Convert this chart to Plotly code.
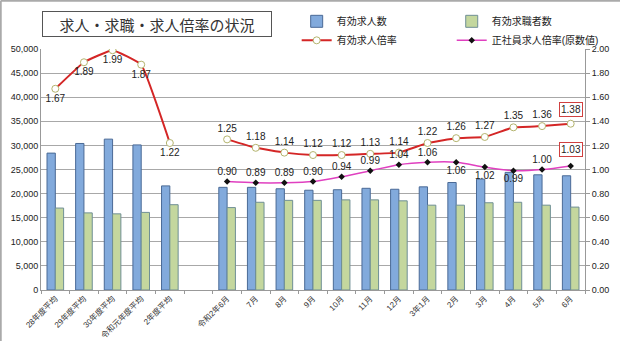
import plotly.graph_objects as go

categories = ["28年度平均", "29年度平均", "30年度平均", "令和元年度平均", "2年度平均", " ",
              "令和2年6月", "7月", "8月", "9月", "10月", "11月", "12月", "3年1月",
              "2月", "3月", "4月", "5月", "6月"]
job_offers = [28400, 30400, 31300, 30100, 21600, None,
              21300, 21300, 21000, 20700, 20800, 21100, 20900, 21400,
              22300, 23000, 24400, 23900, 23700]
job_seekers = [17000, 16000, 15800, 16100, 17700, None,
               17100, 18200, 18600, 18600, 18700, 18700, 18500, 17600,
               17600, 18100, 18200, 17600, 17200]
ratio = [1.67, 1.89, 1.99, 1.87, 1.22, None,
         1.25, 1.18, 1.14, 1.12, 1.12, 1.13, 1.14, 1.22,
         1.26, 1.27, 1.35, 1.36, 1.38]
regular_ratio = [None, None, None, None, None, None,
                 0.90, 0.89, 0.89, 0.90, 0.94, 0.99, 1.04, 1.06,
                 1.06, 1.02, 0.99, 1.00, 1.03]

FONT = "Liberation Sans, Arial, Noto Sans CJK JP"

def lbl(v):
    return "" if v is None else f"{v:.2f}"

ratio_text = [lbl(v) for v in ratio]
ratio_text[-1] = ""
ratio_pos = ["bottom center"] * 6 + ["top center"] * 13
reg_text = [lbl(v) for v in regular_ratio]
reg_text[-1] = ""
reg_pos = ["top center"] * 19
for i in (14, 15, 16):
    reg_pos[i] = "bottom center"

fig = go.Figure()
fig.add_trace(go.Bar(x=categories, y=job_offers, name="有効求人数", legend="legend",
                     marker=dict(color="#82aadc", line=dict(color="#4a6a96", width=1))))
fig.add_trace(go.Bar(x=categories, y=job_seekers, name="有効求職者数", legend="legend2",
                     marker=dict(color="#c4d79e", line=dict(color="#6f8f95", width=1))))
fig.add_trace(go.Scatter(x=categories, y=ratio, name="有効求人倍率", yaxis="y2", legend="legend",
                         mode="lines+markers+text", text=ratio_text, textposition=ratio_pos,
                         textfont=dict(size=10, color="#222"),
                         line=dict(color="#d42626", width=2, shape="spline", smoothing=0.3),
                         marker=dict(size=7, color="white", line=dict(color="#b4b46e", width=1))))
fig.add_trace(go.Scatter(x=categories, y=regular_ratio, name="正社員求人倍率(原数値)", yaxis="y2",
                         legend="legend2",
                         mode="lines+markers+text", text=reg_text, textposition=reg_pos,
                         textfont=dict(size=10, color="#222"),
                         line=dict(color="#e040c0", width=1.5, shape="spline", smoothing=0.8),
                         marker=dict(size=5, color="#111", symbol="diamond")))

annotations = [
    dict(x=categories[-1], y=ratio[-1], yref="y2", xref="x", text=lbl(ratio[-1]),
         showarrow=False, yshift=14, bordercolor="#d04040", borderwidth=1, borderpad=1,
         bgcolor="white", font=dict(size=10, color="#222", family=FONT)),
    dict(x=categories[-1], y=regular_ratio[-1], yref="y2", xref="x", text=lbl(regular_ratio[-1]),
         showarrow=False, yshift=16, bordercolor="#d04040", borderwidth=1, borderpad=1,
         bgcolor="white", font=dict(size=10, color="#222", family=FONT)),
    dict(x=0.213, y=1.104, xref="paper", yref="paper", xanchor="center", yanchor="middle",
         text="求人・求職・求人倍率の状況",
         showarrow=False, width=226, height=22, bordercolor="#555", borderwidth=1,
         font=dict(size=15, color="#333", family="Noto Sans CJK JP")),
]

leg_common = dict(orientation="v", y=1.175, yanchor="top", xanchor="left",
                  itemwidth=30, font=dict(size=10, family=FONT),
                  bgcolor="rgba(0,0,0,0)", tracegroupgap=0)

fig.update_layout(
    width=620, height=341,
    margin=dict(l=41, r=35, t=49, b=51, autoexpand=False),
    paper_bgcolor="white", plot_bgcolor="white",
    font=dict(family=FONT, size=9, color="#222"),
    barmode="group", bargap=0.42, bargroupgap=0,
    showlegend=True,
    legend=dict(x=0.47, **leg_common),
    legend2=dict(x=0.755, **leg_common),
    xaxis=dict(type="category", range=[-0.5, len(categories) - 0.5], autorange=False,
               tickangle=-45, tickfont=dict(size=8, color="#333"),
               showline=True, linecolor="#999", ticks="outside", tickson="boundaries",
               ticklen=3, tickcolor="#999", showgrid=False),
    yaxis=dict(range=[0, 50000], dtick=5000, tickformat=",", showgrid=True,
               gridcolor="#a8a8a8", showline=True, linecolor="#999", zeroline=False,
               tickfont=dict(size=9)),
    yaxis2=dict(range=[0, 2], dtick=0.2, tickformat=".2f", overlaying="y", side="right",
                showgrid=False, showline=True, linecolor="#999", ticks="outside",
                ticklen=4, tickcolor="#999", zeroline=False, tickfont=dict(size=9)),
    annotations=annotations,
    shapes=[
        dict(type="line", xref="paper", yref="paper", x0=-0.074, x1=-0.074, y0=-0.22, y1=1.2,
             line=dict(color="#aaa", width=2)),
        dict(type="line", xref="paper", yref="paper", x0=-0.074, x1=1.07, y0=1.2, y1=1.2,
             line=dict(color="#aaa", width=2)),
    ],
)

fig.write_html("out.html")
